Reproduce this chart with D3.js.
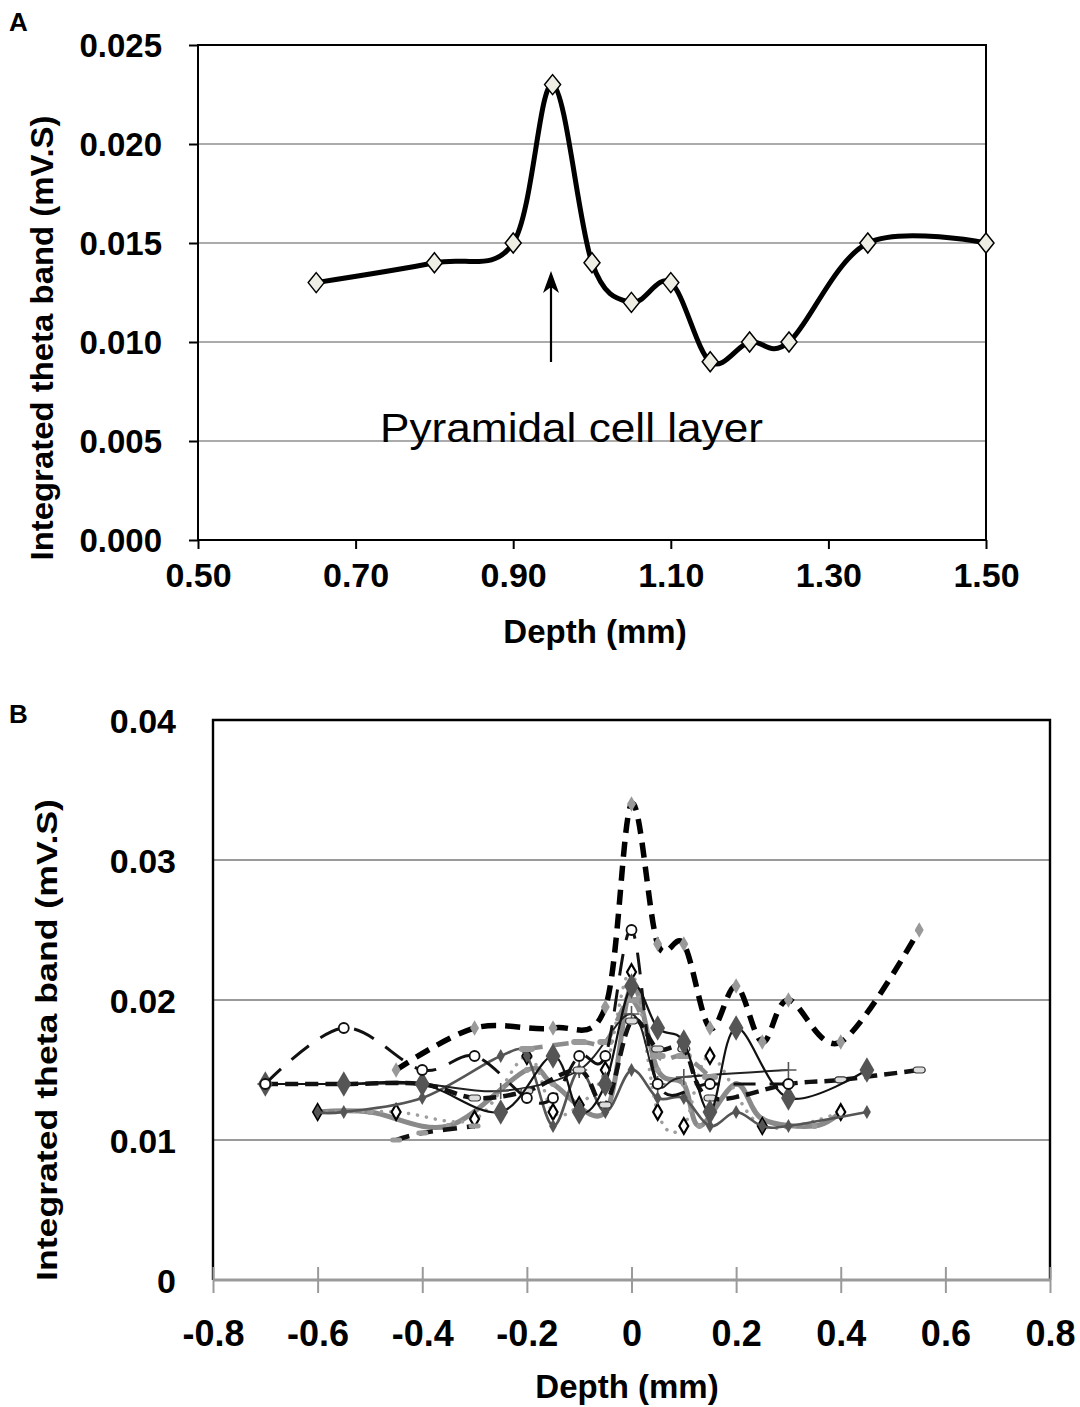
<!DOCTYPE html>
<html>
<head>
<meta charset="utf-8">
<script src="https://cdn.jsdelivr.net/npm/d3@7"></script>
<style>
  html, body { margin: 0; padding: 0; background: #fff; }
  svg { display: block; }
  text { font-family: "Liberation Sans", Arial, sans-serif; }
</style>
</head>
<body>
<svg id="chart" width="1080" height="1407"></svg>
<script>
// ---------- Panel A data ----------
const depthA = [0.65, 0.80, 0.90, 0.95, 1.00, 1.05, 1.10, 1.15, 1.20, 1.25, 1.35, 1.50];
const thetaA = [0.013, 0.014, 0.015, 0.023, 0.014, 0.012, 0.013, 0.009, 0.010, 0.010, 0.015, 0.015];
const yTicksA = [0, 0.005, 0.010, 0.015, 0.020, 0.025];
const xTicksA = [0.50, 0.70, 0.90, 1.10, 1.30, 1.50];

// ---------- Panel B data (depth, value) ----------
const b1Depth = [-0.45, -0.3, -0.15, -0.05, 0, 0.05, 0.1, 0.15, 0.2, 0.25, 0.3, 0.4, 0.55];
const b1Value = [0.015, 0.018, 0.018, 0.0195, 0.034, 0.024, 0.024, 0.018, 0.021, 0.017, 0.020, 0.017, 0.025];
const b2Depth = [-0.7, -0.55, -0.4, -0.3, -0.2, -0.15, -0.1, -0.05, 0, 0.05, 0.15, 0.3];
const b2Value = [0.014, 0.018, 0.015, 0.016, 0.013, 0.013, 0.016, 0.016, 0.025, 0.014, 0.014, 0.014];
const b3Depth = [-0.7, -0.55, -0.4, -0.3, -0.2, -0.1, -0.05, 0, 0.05, 0.1, 0.15, 0.3, 0.4, 0.55];
const b3Value = [0.014, 0.014, 0.014, 0.013, 0.0135, 0.015, 0.0125, 0.0185, 0.0165, 0.0165, 0.013, 0.014, 0.0143, 0.015];
const b4Depth = [-0.6, -0.45, -0.3, -0.2, -0.15, -0.1, -0.05, 0, 0.05, 0.1, 0.15, 0.25, 0.4];
const b4Value = [0.012, 0.012, 0.0115, 0.016, 0.012, 0.0125, 0.015, 0.022, 0.012, 0.011, 0.016, 0.011, 0.012];
const b5Depth = [-0.7, -0.55, -0.4, -0.25, -0.15, -0.1, -0.05, 0, 0.05, 0.1, 0.15, 0.2, 0.3, 0.45];
const b5Value = [0.014, 0.014, 0.014, 0.012, 0.016, 0.012, 0.014, 0.021, 0.018, 0.017, 0.012, 0.018, 0.013, 0.015];
const b6Depth = [-0.7, -0.55, -0.4, -0.25, -0.1, 0, 0.05, 0.1, 0.3];
const b6Value = [0.014, 0.014, 0.014, 0.0135, 0.015, 0.019, 0.014, 0.0145, 0.015];
const b7Depth = [-0.6, -0.55, -0.4, -0.25, -0.2, -0.15, -0.1, -0.05, 0, 0.05, 0.1, 0.15, 0.2, 0.25, 0.3, 0.45];
const b7Value = [0.012, 0.012, 0.013, 0.016, 0.016, 0.011, 0.015, 0.012, 0.015, 0.013, 0.013, 0.011, 0.012, 0.011, 0.011, 0.012];
const b8Depth = [-0.6, -0.5, -0.35, -0.2, -0.15, -0.05, 0, 0.05, 0.1, 0.13, 0.2, 0.25, 0.35, 0.4];
const b8Value = [0.012, 0.012, 0.011, 0.015, 0.014, 0.012, 0.021, 0.015, 0.014, 0.011, 0.014, 0.0115, 0.011, 0.012];
const b9Depth = [-0.45, -0.4, -0.3];
const b9Value = [0.010, 0.0105, 0.011];
const b10Depth = [-0.2, -0.1, -0.05, 0, 0.05, 0.1, 0.15];
const b10Value = [0.0165, 0.017, 0.017, 0.020, 0.016, 0.016, 0.0145];
const yTicksB = [0, 0.01, 0.02, 0.03, 0.04];
const yTickLabelsB = ["0", "0.01", "0.02", "0.03", "0.04"];
const xTicksB = [-0.8, -0.6, -0.4, -0.2, 0, 0.2, 0.4, 0.6, 0.8];
const xTickLabelsB = ["-0.8", "-0.6", "-0.4", "-0.2", "0", "0.2", "0.4", "0.6", "0.8"];

const svg = d3.select("#chart");
const smooth = d3.curveCardinal.tension(0);

// ================= PANEL A =================
const xA = d3.scaleLinear().domain([0.5, 1.5]).range([198, 986]);
const yA = d3.scaleLinear().domain([0, 0.025]).range([540, 45]);
const gA = svg.append("g");

gA.selectAll("line.grid").data(yTicksA.filter(v => v > 0 && v < 0.025)).enter()
  .append("line").attr("x1", xA(0.5)).attr("x2", xA(1.5))
  .attr("y1", d => yA(d)).attr("y2", d => yA(d))
  .attr("stroke", "#8f8f8f").attr("stroke-width", 1.6);

gA.append("rect").attr("x", xA(0.5)).attr("y", yA(0.025))
  .attr("width", xA(1.5) - xA(0.5)).attr("height", yA(0) - yA(0.025))
  .attr("fill", "none").attr("stroke", "#000").attr("stroke-width", 2);

const axYA = d3.axisLeft(yA).tickValues(yTicksA).tickFormat(d3.format(".3f")).tickSize(9).tickPadding(27);
const gyA = gA.append("g").attr("transform", `translate(${xA(0.5)},0)`).call(axYA);
gyA.select(".domain").remove();
gyA.selectAll("line").attr("stroke", "#000").attr("stroke-width", 2);
gyA.selectAll("text").attr("font-size", 33).attr("font-weight", "bold").attr("fill", "#000")
  .style("font-family", "'Liberation Sans', Arial, sans-serif").attr("dy", "0.36em");

const axXA = d3.axisBottom(xA).tickValues(xTicksA).tickFormat(d3.format(".2f")).tickSize(9).tickPadding(14);
const gxA = gA.append("g").attr("transform", `translate(0,${yA(0)})`).call(axXA);
gxA.select(".domain").remove();
gxA.selectAll("line").attr("stroke", "#000").attr("stroke-width", 2);
gxA.selectAll("text").attr("font-size", 34).attr("font-weight", "bold").attr("fill", "#000")
  .style("font-family", "'Liberation Sans', Arial, sans-serif");

const ptsA = depthA.map((d, i) => [d, thetaA[i]]);
gA.append("path").datum(ptsA)
  .attr("d", d3.line().x(d => xA(d[0])).y(d => yA(d[1])).curve(smooth))
  .attr("fill", "none").attr("stroke", "#000").attr("stroke-width", 5);

gA.selectAll("path.mk").data(ptsA).enter().append("path")
  .attr("d", d => {
    const cx = xA(d[0]), cy = yA(d[1]);
    return `M${cx},${cy - 10}L${cx + 8},${cy}L${cx},${cy + 10}L${cx - 8},${cy}Z`;
  })
  .attr("fill", "#eeeee4").attr("stroke", "#000").attr("stroke-width", 1.5);

gA.append("line").attr("x1", 551).attr("x2", 551).attr("y1", 362).attr("y2", 284)
  .attr("stroke", "#000").attr("stroke-width", 2.2);
gA.append("path").attr("d", "M551,271L559,293L551,287L543,293Z").attr("fill", "#000");
gA.append("text").attr("x", 380).attr("y", 442).attr("font-size", 41)
  .attr("textLength", 383).attr("lengthAdjust", "spacingAndGlyphs")
  .text("Pyramidal cell layer");

gA.append("text").attr("x", 595).attr("y", 643).attr("text-anchor", "middle")
  .attr("font-size", 33).attr("font-weight", "bold").text("Depth (mm)");
gA.append("text").attr("transform", "translate(53,338) rotate(-90)").attr("text-anchor", "middle")
  .attr("font-size", 32).attr("font-weight", "bold")
  .attr("textLength", 445).attr("lengthAdjust", "spacingAndGlyphs")
  .text("Integrated theta band (mV.S)");
svg.append("text").attr("x", 9).attr("y", 31).attr("font-size", 26).attr("font-weight", "bold").text("A");
svg.append("text").attr("x", 9).attr("y", 723).attr("font-size", 26).attr("font-weight", "bold").text("B");

// ================= PANEL B =================
const xB = d3.scaleLinear().domain([-0.8, 0.8]).range([213, 1050]);
const yB = d3.scaleLinear().domain([0, 0.04]).range([1280, 720]);
const gB = svg.append("g");

gB.selectAll("line.gridB").data(yTicksB.filter(v => v > 0 && v < 0.04)).enter()
  .append("line").attr("x1", xB(-0.8)).attr("x2", xB(0.8))
  .attr("y1", d => yB(d)).attr("y2", d => yB(d))
  .attr("stroke", "#9a9a9a").attr("stroke-width", 2);

gB.append("path")
  .attr("d", `M${xB(-0.8)},${yB(0)}V${yB(0.04)}H${xB(0.8)}V${yB(0)}`)
  .attr("fill", "none").attr("stroke", "#000").attr("stroke-width", 2.4);

gB.append("line").attr("x1", xB(-0.8)).attr("x2", xB(0.8)).attr("y1", yB(0)).attr("y2", yB(0))
  .attr("stroke", "#9a9a9a").attr("stroke-width", 3);
const axXB = d3.axisBottom(xB).tickValues(xTicksB).tickFormat((d, i) => xTickLabelsB[i]).tickSize(13).tickPadding(27);
const gxB = gB.append("g").attr("transform", `translate(0,${yB(0)})`).call(axXB);
gxB.select(".domain").remove();
gxB.selectAll("line").attr("y1", -13).attr("stroke", "#9a9a9a").attr("stroke-width", 2);
gxB.selectAll("text").attr("font-size", 36).attr("font-weight", "bold").attr("fill", "#000")
  .style("font-family", "'Liberation Sans Narrow', 'Liberation Sans', Arial, sans-serif");

const axYB = d3.axisLeft(yB).tickValues(yTicksB).tickFormat((d, i) => yTickLabelsB[i]).tickSize(0).tickPadding(37);
const gyB = gB.append("g").attr("transform", `translate(${xB(-0.8)},0)`).call(axYB);
gyB.select(".domain").remove();
gyB.selectAll("text").attr("font-size", 34).attr("font-weight", "bold").attr("fill", "#000")
  .style("font-family", "'Liberation Sans', Arial, sans-serif").attr("dy", "0.36em");

gB.append("text").attr("x", 627).attr("y", 1398).attr("text-anchor", "middle")
  .attr("font-size", 33).attr("font-weight", "bold").text("Depth (mm)");
gB.append("text").attr("transform", "translate(57,1040) rotate(-90)").attr("text-anchor", "middle")
  .attr("font-size", 30).attr("font-weight", "bold")
  .attr("textLength", 482).attr("lengthAdjust", "spacingAndGlyphs")
  .text("Integrated theta band (mV.S)");

const lineB = d3.line().x(d => xB(d[0])).y(d => yB(d[1])).curve(smooth);
const zip = (a, b) => a.map((d, i) => [d, b[i]]);

function drawSeries(depths, values, stroke, width, dash, marker) {
  const pts = zip(depths, values);
  const g = gB.append("g");
  g.append("path").datum(pts).attr("d", lineB).attr("fill", "none")
    .attr("stroke", stroke).attr("stroke-width", width)
    .attr("stroke-dasharray", dash || null)
    .attr("stroke-linecap", dash && dash.startsWith("0") ? "round" : "butt");
  const m = g.selectAll("g.m").data(pts).enter().append("g")
    .attr("transform", d => `translate(${xB(d[0])},${yB(d[1])})`);
  marker(m);
}
const diamond = (sz, fill, stroke, sw) => m => m.append("path")
  .attr("d", d3.symbol(d3.symbolDiamond, sz)).attr("fill", fill)
  .attr("stroke", stroke || "none").attr("stroke-width", sw || 0);
const circle = (r, fill, stroke, sw) => m => m.append("circle").attr("r", r)
  .attr("fill", fill).attr("stroke", stroke || "none").attr("stroke-width", sw || 0);
const dashMark = (w, h, fill, stroke) => m => m.append("rect").attr("x", -w / 2).attr("y", -h / 2)
  .attr("width", w).attr("height", h).attr("rx", h / 2).attr("fill", fill)
  .attr("stroke", stroke || "none").attr("stroke-width", 1.2);
const plus = (s, stroke) => m => m.append("path")
  .attr("d", `M${-s},0H${s}M0,${-s}V${s}`).attr("stroke", stroke).attr("stroke-width", 1.6);

drawSeries(b8Depth, b8Value, "#8a8a8a", 5, null, circle(3, "#999"));
drawSeries(b4Depth, b4Value, "#9e9e9e", 3.5, "0.1,9", diamond(70, "#fff", "#000", 2.2));
drawSeries(b7Depth, b7Value, "#555", 2.6, null, diamond(55, "#555"));
drawSeries(b6Depth, b6Value, "#222", 2, null, plus(8, "#555"));
drawSeries(b10Depth, b10Value, "#8c8c8c", 4.5, "16,10", dashMark(16, 6, "#999"));
drawSeries(b9Depth, b9Value, "#111", 4.5, "14,10", dashMark(12, 5, "#999"));
drawSeries(b3Depth, b3Value, "#111", 4.5, "13,7", dashMark(12, 6, "#ddd", "#333"));
drawSeries(b5Depth, b5Value, "#111", 2.2, null, diamond(190, "#555"));
drawSeries(b2Depth, b2Value, "#111", 3, "22,14", circle(5, "#fff", "#111", 1.8));
drawSeries(b1Depth, b1Value, "#000", 5.5, "15,9", diamond(70, "#999"));
</script>
</body>
</html>
